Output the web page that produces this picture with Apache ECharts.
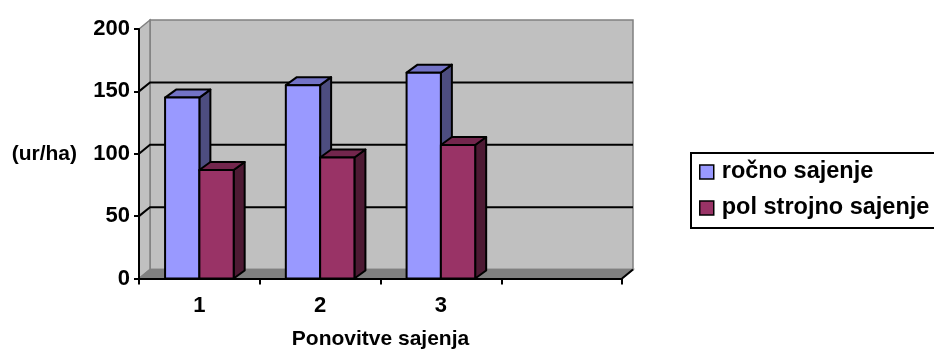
<!DOCTYPE html>
<html>
<head>
<meta charset="utf-8">
<script src="https://cdn.jsdelivr.net/npm/echarts@6/dist/echarts.min.js"></script>
<style>
  html, body { margin: 0; padding: 0; background: #fff; }
  #chart { width: 934px; height: 358px; }
</style>
</head>
<body>
<div id="chart"></div>
<script>
// Categories (the fourth slot is an empty category, as in the original workbook)
const categories = ['1', '2', '3', ''];
// Planting output per repetition (ur/ha)
const rocnoSajenje = [145, 155, 165];
const polStrojnoSajenje = [87, 97, 107];
// Value axis ticks
const yTicks = [0, 50, 100, 150, 200];

const FONT = 'Liberation Sans, Arial, sans-serif';
// 3D depth offsets (pixels) for the walls and the column prisms
const WALL_DX = 11, WALL_DY = -9;
const BAR_DX = 11, BAR_DY = -8;

const chart = echarts.init(document.getElementById('chart'), null, { renderer: 'canvas' });

// Back wall, left wall, floor and the gridlines on the walls
function renderWalls(params, api) {
  const cs = params.coordSys;
  const gx = cs.x, gy = cs.y, gw = cs.width, gh = cs.height;
  const wallStroke = { stroke: '#808080', lineWidth: 1.5 };
  const children = [
    { type: 'rect', shape: { x: gx + WALL_DX, y: gy + WALL_DY, width: gw, height: gh },
      style: Object.assign({ fill: '#c0c0c0' }, wallStroke) },
    { type: 'polygon', shape: { points: [[gx, gy], [gx + WALL_DX, gy + WALL_DY], [gx + WALL_DX, gy + gh + WALL_DY], [gx, gy + gh]] },
      style: Object.assign({ fill: '#c0c0c0' }, wallStroke) },
    { type: 'polygon', shape: { points: [[gx, gy + gh], [gx + WALL_DX, gy + gh + WALL_DY], [gx + gw + WALL_DX, gy + gh + WALL_DY], [gx + gw, gy + gh]] },
      style: Object.assign({ fill: '#808080' }, wallStroke) }
  ];
  yTicks.forEach(function (v) {
    if (v <= yTicks[0] || v >= yTicks[yTicks.length - 1]) return;
    const y = api.coord([0, v])[1];
    children.push({ type: 'polyline',
      shape: { points: [[gx, y], [gx + WALL_DX, y + WALL_DY], [gx + gw + WALL_DX, y + WALL_DY]] },
      style: { stroke: '#000', lineWidth: 2, fill: null } });
  });
  // floor edge at the right end of the category axis
  children.push({ type: 'line',
    shape: { x1: gx + gw, y1: gy + gh, x2: gx + gw + WALL_DX, y2: gy + gh + WALL_DY },
    style: { stroke: '#000', lineWidth: 2 } });
  return { type: 'group', children: children };
}

// Column prism: front face, top face and right side face
function makeBarRenderer(side, colors) {
  return function (params, api) {
    const cat = api.value(0), val = api.value(1);
    const base = api.coord([cat, 0]);
    const top = api.coord([cat, val]);
    const bw = api.size([1, 0])[0];
    const w = bw * 0.284;
    const x0 = side < 0 ? base[0] - w : base[0];
    const x1 = x0 + w;
    const y0 = top[1], y1 = base[1];
    const s = { stroke: '#000', lineWidth: 2, lineJoin: 'round' };
    return {
      type: 'group',
      children: [
        { type: 'polygon', shape: { points: [[x1, y0], [x1 + BAR_DX, y0 + BAR_DY], [x1 + BAR_DX, y1 + BAR_DY], [x1, y1]] },
          style: Object.assign({ fill: colors.side }, s) },
        { type: 'polygon', shape: { points: [[x0, y0], [x0 + BAR_DX, y0 + BAR_DY], [x1 + BAR_DX, y0 + BAR_DY], [x1, y0]] },
          style: Object.assign({ fill: colors.top }, s) },
        { type: 'rect', shape: { x: x0, y: y0, width: w, height: y1 - y0 },
          style: Object.assign({ fill: colors.front }, s) }
      ]
    };
  };
}

const blue = { front: '#9999ff', top: '#7373c6', side: '#4d4d80' };
const plum = { front: '#993366', top: '#73264d', side: '#4d1a33' };

const option = {
  animation: false,
  backgroundColor: '#ffffff',
  grid: { left: 139, top: 29, width: 483, height: 249.5, containLabel: false },
  // legend frame; it runs past the right edge of the page
  graphic: [{
    type: 'rect', left: 690, top: 152, z: 0, silent: true,
    shape: { width: 300, height: 75 },
    style: { fill: '#fff', stroke: '#000', lineWidth: 2 }
  }],
  legend: {
    orient: 'vertical',
    left: 690, top: 152, z: 5,
    data: ['ročno sajenje', 'pol strojno sajenje'],
    icon: 'rect',
    itemWidth: 14, itemHeight: 14, itemGap: 12,
    itemStyle: { borderColor: '#000', borderWidth: 1.5 },
    borderWidth: 0,
    padding: [8, 10, 8, 9],
    selectedMode: false,
    textStyle: { fontFamily: FONT, fontWeight: 'bold', fontSize: 23.5, color: '#000', padding: [0, 0, 0, 3] }
  },
  xAxis: {
    type: 'category',
    data: categories,
    boundaryGap: true,
    name: 'Ponovitve sajenja',
    nameLocation: 'middle',
    nameGap: 50,
    nameTextStyle: { fontFamily: FONT, fontWeight: 'bold', fontSize: 21, color: '#000' },
    axisLine: { lineStyle: { color: '#000', width: 2 } },
    axisTick: { show: true, length: 6, lineStyle: { color: '#000', width: 2 } },
    axisLabel: { margin: 16, fontFamily: FONT, fontWeight: 'bold', fontSize: 22, color: '#000' },
    splitLine: { show: false }
  },
  yAxis: {
    type: 'value',
    min: yTicks[0], max: yTicks[yTicks.length - 1], interval: yTicks[1] - yTicks[0],
    name: '(ur/ha)',
    nameLocation: 'middle',
    nameRotate: 0,
    nameGap: 62,
    nameTextStyle: { fontFamily: FONT, fontWeight: 'bold', fontSize: 21, color: '#000' },
    axisLine: { show: true, lineStyle: { color: '#000', width: 2 } },
    axisTick: { show: true, length: 5, lineStyle: { color: '#000', width: 2 } },
    axisLabel: { margin: 9, fontFamily: FONT, fontWeight: 'bold', fontSize: 22, color: '#000' },
    splitLine: { show: false }
  },
  series: [
    {
      type: 'custom', name: 'walls', z: -1, silent: true,
      renderItem: renderWalls,
      data: [[0, 0]]
    },
    {
      type: 'custom', name: 'ročno sajenje', z: 2,
      itemStyle: { color: blue.front },
      renderItem: makeBarRenderer(-1, blue),
      encode: { x: 0, y: 1 },
      data: rocnoSajenje.map(function (v, i) { return [i, v]; })
    },
    {
      type: 'custom', name: 'pol strojno sajenje', z: 3,
      itemStyle: { color: plum.front },
      renderItem: makeBarRenderer(1, plum),
      encode: { x: 0, y: 1 },
      data: polStrojnoSajenje.map(function (v, i) { return [i, v]; })
    }
  ]
};

chart.setOption(option);
</script>
</body>
</html>
